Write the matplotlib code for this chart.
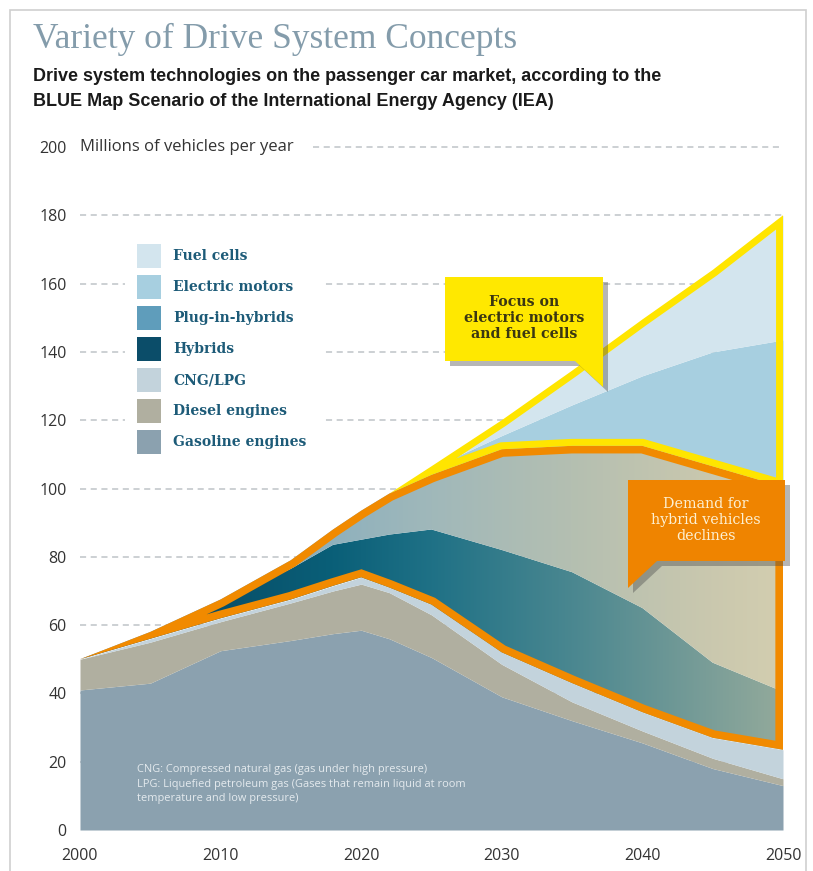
import numpy as np
import matplotlib
matplotlib.use("Agg")
import matplotlib.pyplot as plt
from matplotlib.patches import Polygon, Rectangle
from matplotlib.colors import LinearSegmentedColormap

# Passenger car sales by drive system, millions of vehicles per year (IEA BLUE Map)
years = [2000, 2005, 2010, 2015, 2018, 2020, 2022, 2025, 2030, 2035, 2040, 2045, 2050]
gasoline = [41, 43, 52.5, 55.5, 57.5, 58.5, 56, 50.5, 39, 32, 25.5, 18, 13]
diesel = [9, 12, 8.5, 11, 12.5, 13.5, 13.5, 12.5, 9.5, 5.5, 3.5, 3, 2]
cng_lpg = [0, 1, 1, 1, 1.5, 2, 1.5, 3, 3.5, 5.5, 5.5, 6, 8.5]
hybrids = [0, 1.5, 4.5, 9, 12, 11, 15.5, 22, 30, 32.5, 30.5, 22, 17]
plugin_hybrids = [0, 0.5, 1, 2.5, 4.5, 8.5, 12, 16, 29.5, 37, 47.5, 57.5, 60]
electric = [0, 0, 0, 0, 0, 0, 0, 2, 4, 12, 20.5, 33.5, 43]
fuel_cells = [0, 0, 0, 0, 0, 0, 0, 0.5, 4.5, 10, 16.5, 24, 36.5]

legend_labels = ["Fuel cells", "Electric motors", "Plug-in-hybrids", "Hybrids",
                 "CNG/LPG", "Diesel engines", "Gasoline engines"]
legend_colors = ["#d3e5ee", "#a7cfe0", "#5f9dbb", "#0b4d69",
                 "#c3d3dc", "#b0afa0", "#8ba1af"]
x_ticks = [2000, 2010, 2020, 2030, 2040, 2050]
y_ticks = [0, 20, 40, 60, 80, 100, 120, 140, 160, 180, 200]

W, H = 813, 871


def fx(x):
    return x / W


def fy(y):
    return 1 - y / H


def fig_poly(pts, **kw):
    return Polygon([(fx(x), fy(y)) for x, y in pts], closed=True,
                   transform=fig.transFigure, **kw)


fig = plt.figure(figsize=(W / 100, H / 100), dpi=100)
fig.patch.set_facecolor("white")
ax = fig.add_axes([fx(80), fy(830), (783 - 80) / W, (830 - 147) / H])

x = np.array(years, dtype=float)
layers = np.array([gasoline, diesel, cng_lpg, hybrids, plugin_hybrids, electric, fuel_cells])
tops = np.cumsum(layers, axis=0)
bottoms = np.vstack([np.zeros_like(x), tops[:-1]])

# dashed grid
grid_kw = dict(color="#bfc4c8", lw=1.1, ls=(0, (4, 3)), zorder=0)
for v in y_ticks[1:-1]:
    ax.axhline(v, **grid_kw)
ax.plot([2016.6, 2050], [200, 200], clip_on=False, **grid_kw)

# plain layers
plain = {0: "#8ba1af", 1: "#b0afa0", 2: "#c3d3dc", 5: "#a7cfe0", 6: "#d3e5ee"}
for i, c in plain.items():
    ax.fill_between(x, bottoms[i], tops[i], color=c, lw=0, zorder=1)

# hybrid layers get a horizontal colour gradient
grads = {
    3: [(0.0, "#053d58"), (0.36, "#0a5f78"), (0.5, "#1f7186"), (0.7, "#4a8790"),
        (0.9, "#7b9e98"), (1.0, "#93aa9b")],
    4: [(0.0, "#6ea0b8"), (0.36, "#8fb1bd"), (0.5, "#a0b8ba"), (0.7, "#b4bfb1"),
        (0.9, "#cac8ae"), (1.0, "#d3ceb0")],
}
for i, stops in grads.items():
    cmap = LinearSegmentedColormap.from_list("g%d" % i, stops)
    verts = np.concatenate([np.column_stack([x, bottoms[i]]),
                            np.column_stack([x[::-1], tops[i][::-1]])])
    clip = Polygon(verts, closed=True, facecolor="none", edgecolor="none")
    ax.add_patch(clip)
    im = ax.imshow(np.linspace(0, 1, 256)[None, :], cmap=cmap, aspect="auto",
                   extent=[2000, 2050, 0, 200], origin="lower", zorder=1.5,
                   interpolation="bilinear")
    im.set_clip_path(clip)


def inner_outline(lower, upper, mask, color, width):
    xs = x[mask]
    verts = np.concatenate([np.column_stack([xs, lower[mask]]),
                            np.column_stack([xs[::-1], upper[mask][::-1]])])
    edge = Polygon(verts, closed=True, facecolor="none", edgecolor=color,
                   lw=width * 2, joinstyle="miter", zorder=3)
    ax.add_patch(edge)
    edge.set_clip_path(Polygon(verts, closed=True, transform=ax.transData))


# orange outline round hybrids and plug-in hybrids, yellow round the electric drives
inner_outline(tops[2], tops[4], x >= 2000, "#f18a00", 5.5)
inner_outline(tops[4], tops[6], x >= 2022, "#ffe500", 5.0)

ax.set_xlim(2000, 2050)
ax.set_ylim(0, 200)
for s in ax.spines.values():
    s.set_visible(False)
ax.set_facecolor("none")
ax.set_xticks(x_ticks)
ax.set_yticks(y_ticks)
ax.tick_params(length=0, labelsize=11.5, labelcolor="#333333")
ax.tick_params(axis="x", pad=13)
ax.tick_params(axis="y", pad=9.5)
for lab in ax.get_xticklabels() + ax.get_yticklabels():
    lab.set_fontfamily("Open Sans")
ax.text(2000, 200, "Millions of vehicles per year", fontsize=12, family="Open Sans",
        color="#333333", va="center", ha="left", clip_on=False)

# footnote
ax.text(fx(137), fy(764), "CNG: Compressed natural gas (gas under high pressure)\n"
        "LPG: Liquefied petroleum gas (Gases that remain liquid at room\n"
        "temperature and low pressure)", transform=fig.transFigure,
        fontsize=7.9, family="Open Sans", color="#e4eaee", va="top", ha="left",
        linespacing=1.45, zorder=4)

# titles
fig.text(fx(33), fy(39), "Variety of Drive System Concepts", fontsize=25.5,
         family="Liberation Serif", color="#849cab", va="center", ha="left")
fig.text(fx(33), fy(89), "Drive system technologies on the passenger car market, according to the\n"
         "BLUE Map Scenario of the International Energy Agency (IEA)", fontsize=13,
         family="Liberation Sans", weight="bold", color="#1a1a1a", va="center",
         ha="left", linespacing=1.55)

# frame
fig.add_artist(Rectangle((fx(10), fy(900)), fx(796), (890) / H, transform=fig.transFigure,
                         facecolor="none", edgecolor="#cfcfcf", lw=1.2, clip_on=False))

# legend
fig.add_artist(Rectangle((fx(125), fy(462)), fx(200), 226 / H, transform=fig.transFigure,
                         facecolor="white", edgecolor="none", zorder=2))
for k, (lab, col) in enumerate(zip(legend_labels, legend_colors)):
    yc = 256 + 31 * k
    fig.add_artist(Rectangle((fx(137), fy(yc + 12)), fx(24), 24 / H,
                             transform=fig.transFigure, facecolor=col,
                             edgecolor="none", zorder=3))
    fig.text(fx(173), fy(yc), lab, fontsize=10, family="DejaVu Serif", weight="bold",
             color="#1d5b78", va="center", ha="left", zorder=3)

# callouts
yellow_box = [(445, 277), (603, 277), (603, 387), (575, 361), (445, 361)]
orange_box = [(628, 480), (785, 480), (785, 561), (657, 561), (628, 588)]
for pts, col in [(yellow_box, "#ffe800"), (orange_box, "#ef8400")]:
    fig.add_artist(fig_poly([(a + 5, b + 5) for a, b in pts], facecolor="#4a4a4a",
                            alpha=0.4, edgecolor="none", zorder=5))
    fig.add_artist(fig_poly(pts, facecolor=col, edgecolor="none", zorder=6))
fig.text(fx(524), fy(318), "Focus on\nelectric motors\nand fuel cells", fontsize=10.2,
         family="DejaVu Serif", weight="bold", color="#3b3712", ha="center",
         va="center", linespacing=1.15, zorder=7)
fig.text(fx(706), fy(520), "Demand for\nhybrid vehicles\ndeclines", fontsize=10.3,
         family="DejaVu Serif", color="#fdf0d2", ha="center", va="center",
         linespacing=1.15, zorder=7)

fig.savefig("out.png", dpi=100)
